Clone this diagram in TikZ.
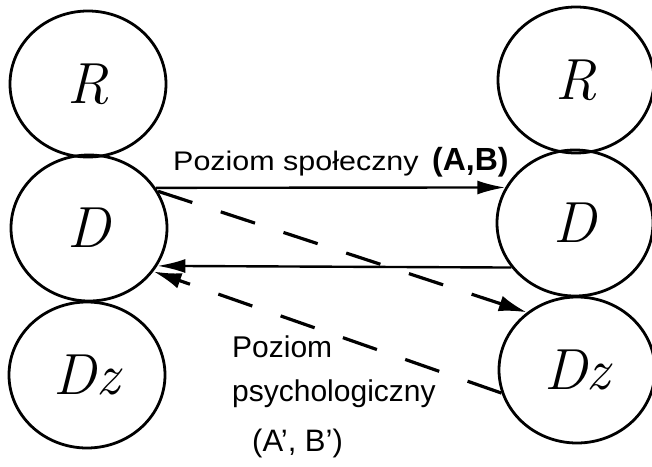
\documentclass[tikz,border=0pt]{standalone}
\usepackage{fontspec}
\newfontfamily\labfont{Liberation Sans}
\usetikzlibrary{shapes.geometric,arrows.meta}

\tikzset{
  level/.style={ellipse, draw, line width=2.8pt, minimum width=156pt,
    minimum height=146pt, inner sep=0pt,
    font=\fontsize{58}{58}\selectfont\itshape},
  flow/.style={line width=2.4pt, -{Latex[length=28pt,width=14pt]}},
  psyflow/.style={line width=3.2pt, dash pattern=on 36pt off 30pt,
    -{Latex[length=28pt,width=16pt]}},
  caption/.style={inner sep=0pt, anchor=base west, font=\labfont}
}

\begin{document}
\begin{tikzpicture}[x=1pt, y=-1pt]
  \useasboundingbox (0,0) rectangle (652,466);

  % left column
  \node[level] (Rl)  at (88,84)  {R};
  \node[level] (Dl)  at (89,228) {D};
  \node[level] (Dzl) at (87,375) {Dz};

  % right column
  \node[level] (Rr)  at (576,80)  {R};
  \node[level] (Dr)  at (575,223) {D};
  \node[level] (Dzr) at (577,370) {Dz};

  % social level
  \draw[flow] (Dl.31) -- (Dr.153);
  \draw[flow] (Dr.215) -- (Dl.331);

  % psychological level
  \draw[psyflow] (Dl.28) -- (Dzr.131);
  \draw[psyflow] (Dzr.197) -- (Dl.326);

  % labels
  \node[caption] (t1) at (173,170)
    {\fontsize{25.6}{26}\selectfont\scalebox{1.19}[1.05]{Poziom społeczny}};
  \node[caption] (t2) at (432,170)
    {\fontsize{32}{32}\selectfont\bfseries (A,B)};
  \node[caption] (t3) at (232,357) {\fontsize{30}{30}\selectfont Poziom};
  \node[caption] (t4) at (232,401) {\fontsize{30}{30}\selectfont psychologiczny};
  \node[caption] (t5) at (252,451) {\fontsize{31}{31}\selectfont (A’, B’)};
\end{tikzpicture}
\end{document}
